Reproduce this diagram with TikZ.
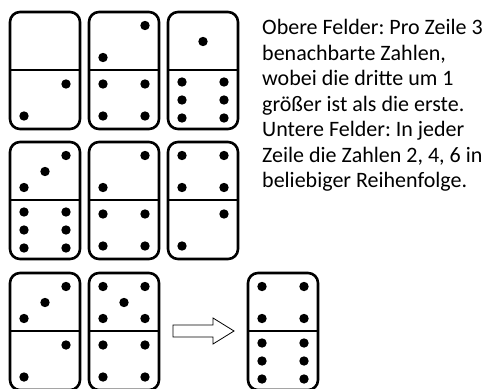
\documentclass[tikz,border=0pt]{standalone}
\usepackage{fontspec}
\setmainfont{Carlito}
\usetikzlibrary{positioning}
\frenchspacing

\tikzset{
  domframe/.style={line width=2.6pt, rounded corners=10pt},
  domline/.style={line width=2.2pt},
  pip/.style={fill=black},
  hollow/.style={draw=black, line width=0.8pt, fill=white, line join=miter},
}

% pips of one half, drawn round the centre of that half
\newcommand{\pipset}[1]{%
  \ifcase#1\relax
  \or
    \fill[pip] (0,0) circle (4.7pt);
  \or
    \fill[pip] (21,-16) circle (4.7pt);
    \fill[pip] (-21,16) circle (4.7pt);
  \or
    \fill[pip] (21,-16) circle (4.7pt);
    \fill[pip] (0,0) circle (4.7pt);
    \fill[pip] (-21,16) circle (4.7pt);
  \or
    \foreach \a in {-21,21}{
      \foreach \b in {-16,16}{
        \fill[pip] (\a,\b) circle (4.7pt);
      }
    }
  \or
    \foreach \a in {-21,21}{
      \foreach \b in {-16,16}{
        \fill[pip] (\a,\b) circle (4.7pt);
      }
    }
    \fill[pip] (0,0) circle (4.7pt);
  \or
    \foreach \a in {-21,21}{
      \foreach \b in {-18,0,18}{
        \fill[pip] (\a,\b) circle (4.7pt);
      }
    }
  \fi}

% one domino: left, top, upper pips, lower pips
\newcommand{\domino}[4]{%
  \begin{scope}[shift={(#1,#2)}]
    \draw[domframe] (0,0) rectangle (70,117);
    \draw[domline] (0,58) -- (70,58);
    \begin{scope}[shift={(35,29.5)}]\pipset{#3}\end{scope}
    \begin{scope}[shift={(35,88)}]\pipset{#4}\end{scope}
  \end{scope}}

\begin{document}
\begin{tikzpicture}[x=1pt, y=-1pt]
  \useasboundingbox (0,0) rectangle (489,388);

  % first row
  \domino{10}{12}{0}{2}
  \domino{89}{12}{2}{4}
  \domino{168}{12}{1}{6}

  % second row
  \domino{10}{142}{3}{6}
  \domino{89}{142}{2}{4}
  \domino{168}{142}{4}{2}

  % third row and the result
  \domino{10}{273}{3}{2}
  \domino{89}{273}{5}{4}
  \domino{248}{273}{4}{6}

  % arrow
  \draw[hollow] (173,325) -- (213,325) -- (213,318) -- (234,331)
    -- (213,344) -- (213,337) -- (173,337) -- cycle;

  % rule text
  \node[anchor=north west, inner sep=0pt, align=left,
        font=\fontsize{22}{25.5}\selectfont] (rule) at (262,19.2)
    {Obere Felder: Pro Zeile 3\\
     benachbarte Zahlen,\\
     wobei die dritte um 1\\
     größer ist als die erste.\\
     Untere Felder: In jeder\\
     Zeile die Zahlen 2, 4, 6 in\\
     beliebiger Reihenfolge.};
\end{tikzpicture}
\end{document}
